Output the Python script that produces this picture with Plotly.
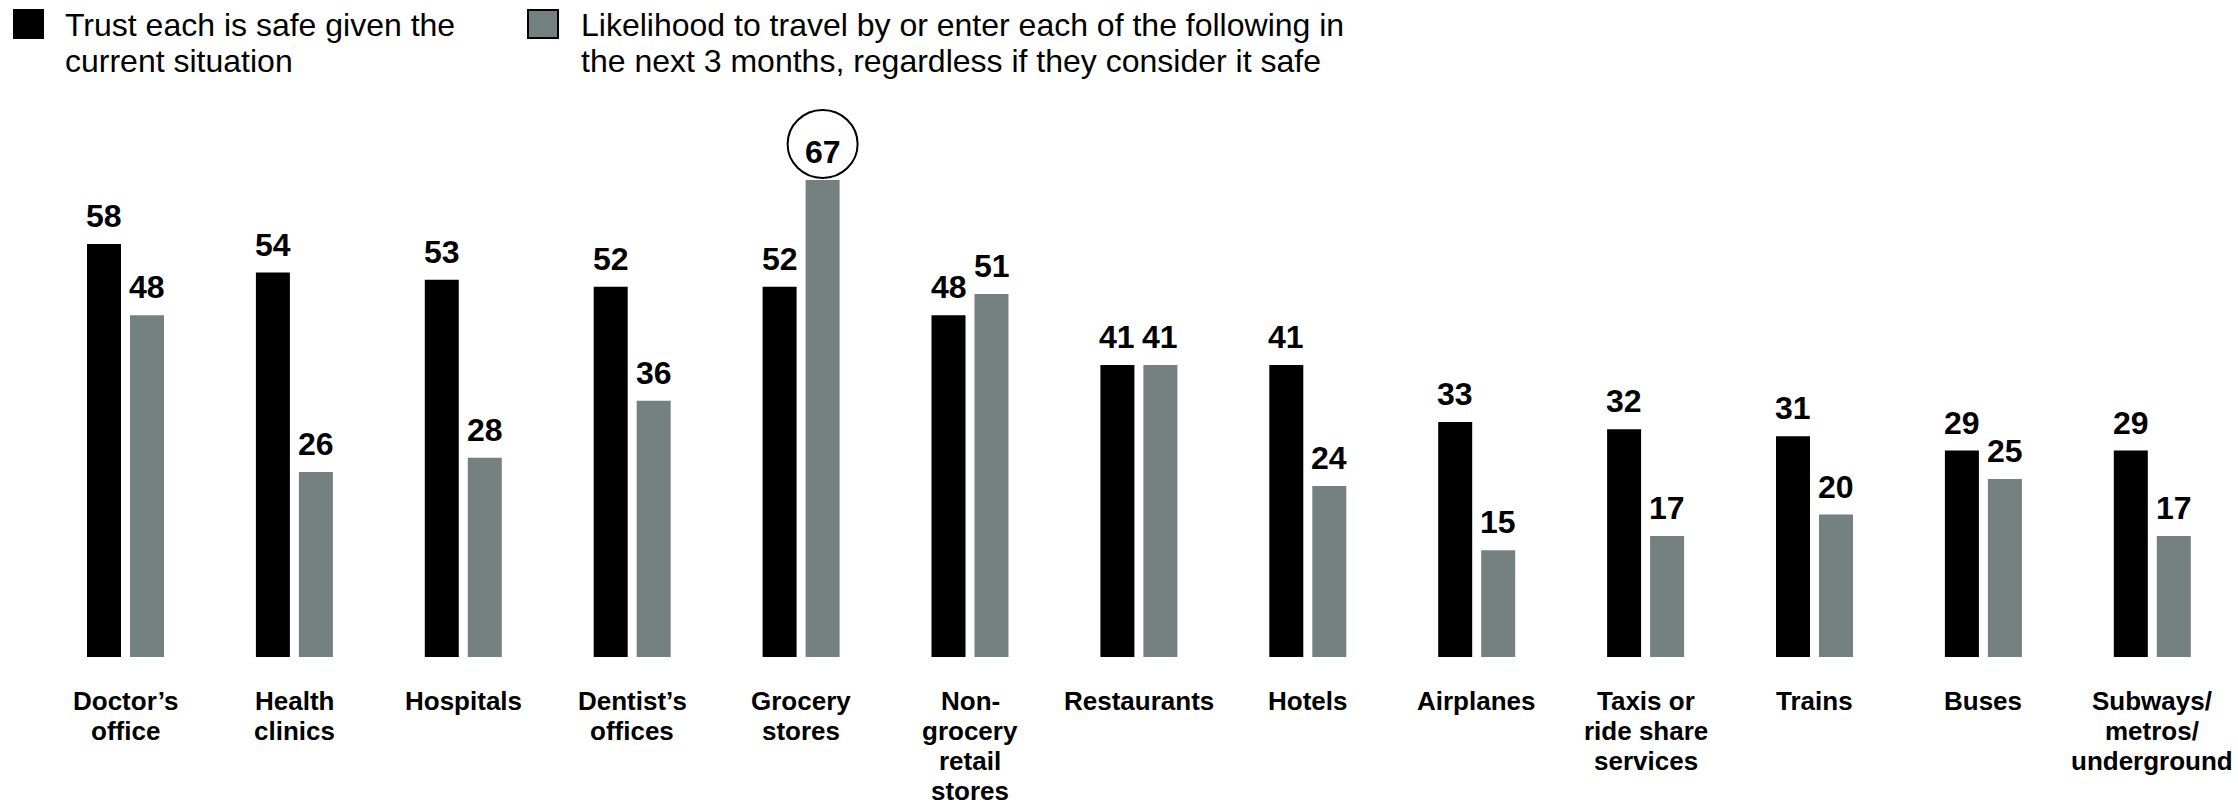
import plotly.graph_objects as go

# Survey categories and the two measured series (percent of respondents)
categories = [
    "Doctor’s<br>office", "Health<br>clinics", "Hospitals", "Dentist’s<br>offices",
    "Grocery<br>stores", "Non-<br>grocery<br>retail<br>stores", "Restaurants", "Hotels",
    "Airplanes", "Taxis or<br>ride share<br>services", "Trains", "Buses",
    "Subways/<br>metros/<br>underground",
]
trust_safe = [58, 54, 53, 52, 52, 48, 41, 41, 33, 32, 31, 29, 29]
likely_travel = [48, 26, 28, 36, 67, 51, 41, 24, 15, 17, 20, 25, 17]

legend_trust = ["Trust each is safe given the", "current situation"]
legend_likely = [
    "Likelihood to travel by or enter each of the following in",
    "the next 3 months, regardless if they consider it safe",
]

BLACK = "#000000"
GRAY = "#758180"
FONT = "Liberation Sans, Arial, Helvetica, sans-serif"

W, H = 2238, 806
PLOT_H = 657          # pixel height of plotting area (bars start at its bottom)
UNIT_PX = 7.12        # pixels per percentage point
GROUP_PX = 168.9      # pixel spacing between categories
FIRST_CENTER_PX = 125.5

bar_w = 34 / GROUP_PX
off_black = -(4.5 + 34) / GROUP_PX
off_gray = 4.5 / GROUP_PX

x = list(range(len(categories)))

fig = go.Figure()
fig.add_trace(go.Bar(
    x=x, y=trust_safe, width=bar_w, offset=off_black,
    marker=dict(color=BLACK, line=dict(width=0)), name=legend_trust[0],
    showlegend=False, hoverinfo="skip",
))
fig.add_trace(go.Bar(
    x=x, y=likely_travel, width=bar_w, offset=off_gray,
    marker=dict(color=GRAY, line=dict(width=0)), name=legend_likely[0],
    showlegend=False, hoverinfo="skip",
))


def px_x(p):
    return p / W


def px_y(p):
    return 1 - p / PLOT_H


annotations = []

# Value labels above each bar
label_font = dict(family=FONT, size=32, color="#000000")
for i, (a, b) in enumerate(zip(trust_safe, likely_travel)):
    annotations.append(dict(
        x=i + off_black + bar_w / 2, y=a, xref="x", yref="y",
        text=f"<b>{a}</b>", showarrow=False, yanchor="bottom", xanchor="center",
        yshift=8, font=label_font,
    ))
    annotations.append(dict(
        x=i + off_gray + bar_w / 2, y=b, xref="x", yref="y",
        text=f"<b>{b}</b>", showarrow=False, yanchor="bottom", xanchor="center",
        yshift=8, font=label_font,
    ))

# Category labels under the groups, one annotation per line for tight leading
cat_font = dict(family=FONT, size=26, color="#000000")
CAT_TOP_PX = 684
CAT_LINE_PX = 30
for i, cat in enumerate(categories):
    for k, line in enumerate(cat.split("<br>")):
        annotations.append(dict(
            x=i, y=px_y(CAT_TOP_PX + CAT_LINE_PX * k), xref="x", yref="paper",
            text=f"<b>{line}</b>", showarrow=False, xanchor="center",
            yanchor="top", font=cat_font,
        ))

shapes = []
# Circle highlighting the largest value of the second series
imax = likely_travel.index(max(likely_travel))
shapes.append(dict(
    type="circle", xref="x", yref="y",
    xsizemode="pixel", ysizemode="pixel",
    xanchor=imax + off_gray + bar_w / 2, yanchor=likely_travel[imax],
    x0=-35, x1=35, y0=2, y1=70,
    line=dict(color="#000000", width=2), fillcolor="rgba(0,0,0,0)",
))

# Legend swatches
shapes.append(dict(type="rect", xref="paper", yref="paper",
                   x0=px_x(13), x1=px_x(44), y0=px_y(39), y1=px_y(9),
                   fillcolor=BLACK, line=dict(width=0)))
shapes.append(dict(type="rect", xref="paper", yref="paper",
                   x0=px_x(528), x1=px_x(558), y0=px_y(38), y1=px_y(10),
                   fillcolor=GRAY, line=dict(color="#000000", width=2)))

legend_font = dict(family=FONT, size=32, color="#000000")
for x_px, lines in ((63, legend_trust), (579, legend_likely)):
    for k, line in enumerate(lines):
        annotations.append(dict(
            x=px_x(x_px), y=px_y(5 + 36 * k), xref="paper", yref="paper",
            text=line, showarrow=False, xanchor="left", yanchor="top",
            font=legend_font,
        ))

fig.update_layout(
    width=W, height=H,
    margin=dict(l=0, r=0, t=0, b=H - PLOT_H, pad=0),
    paper_bgcolor="white", plot_bgcolor="white",
    barmode="overlay",
    xaxis=dict(
        range=[-FIRST_CENTER_PX / GROUP_PX, (W - FIRST_CENTER_PX) / GROUP_PX],
        tickmode="array", tickvals=x, showticklabels=False,
        showgrid=False, zeroline=False, showline=False, ticks="",
        fixedrange=True,
    ),
    yaxis=dict(
        range=[0, PLOT_H / UNIT_PX], visible=False, showgrid=False,
        zeroline=False, fixedrange=True,
    ),
    shapes=shapes,
    annotations=annotations,
    showlegend=False,
)

fig.write_html("out.html")
